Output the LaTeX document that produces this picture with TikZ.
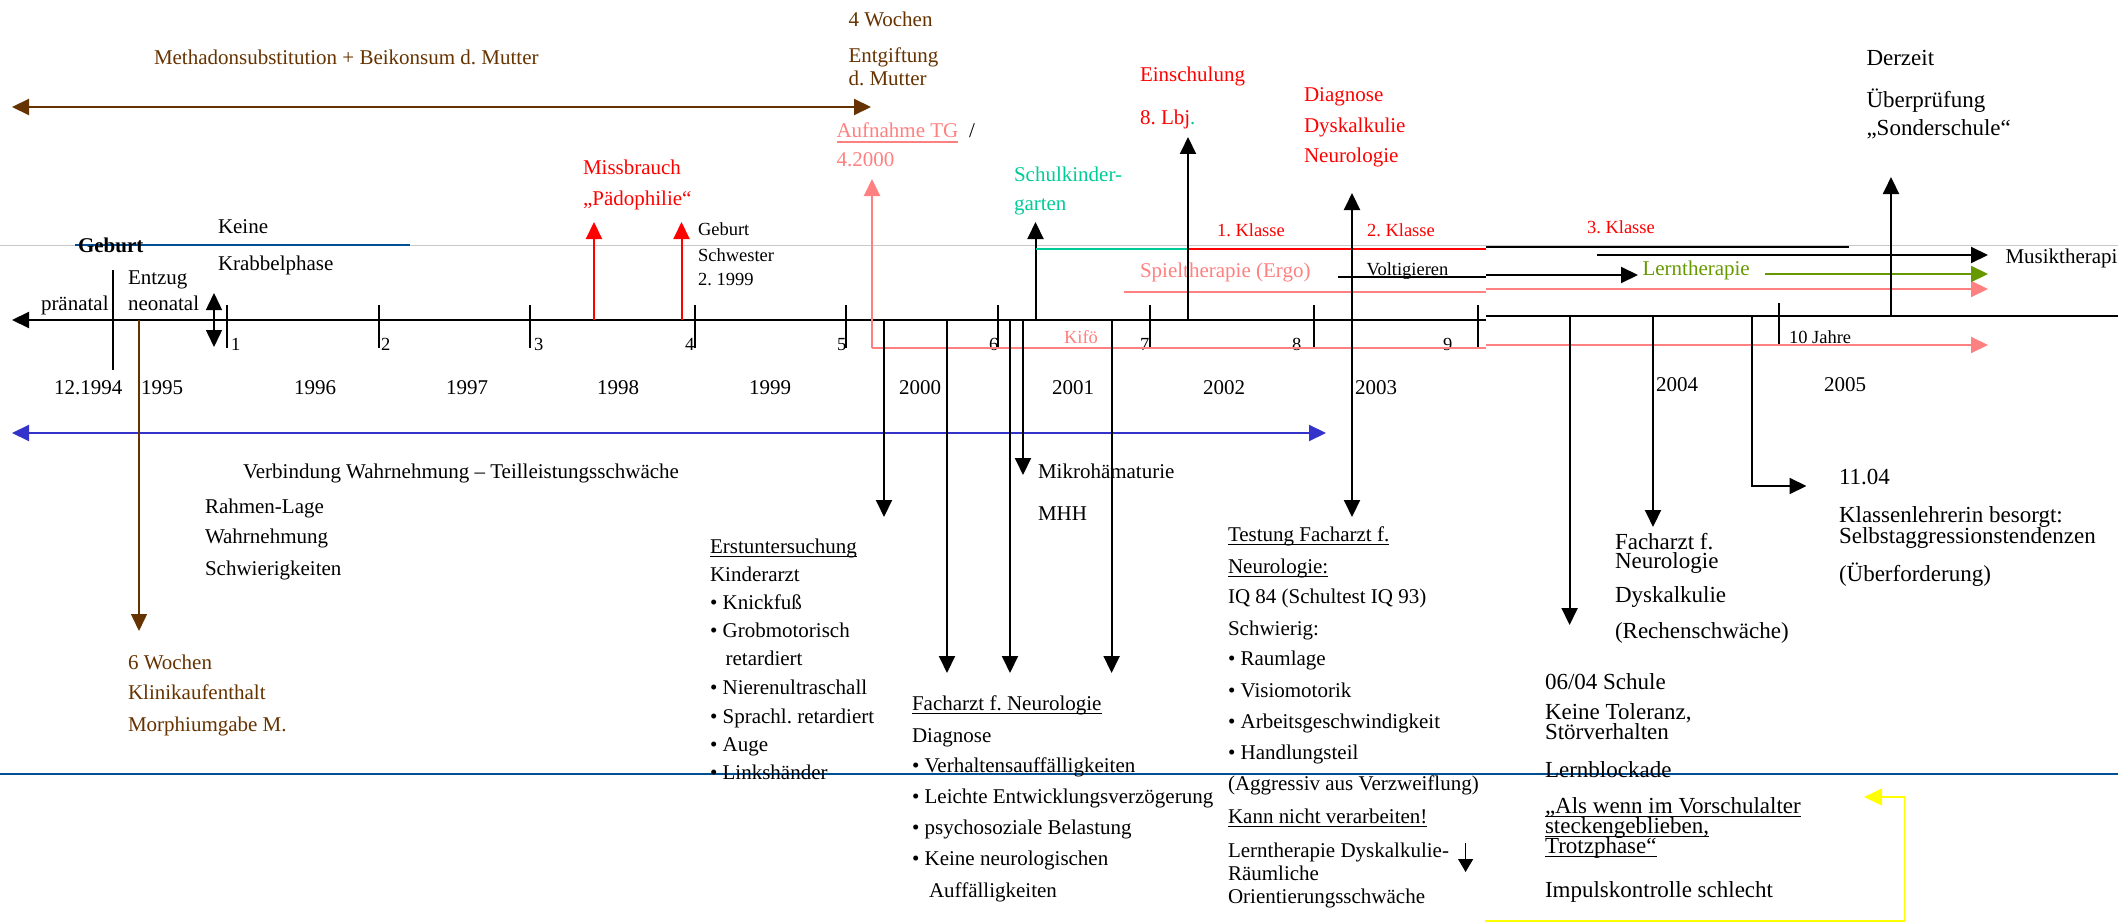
\documentclass[tikz,border=0pt]{standalone}
\usepackage{fontspec}
\setmainfont{Liberation Serif}
\usetikzlibrary{arrows.meta}
\definecolor{brownc}{RGB}{102,51,0}
\definecolor{redc}{RGB}{255,0,0}
\definecolor{pinkc}{RGB}{255,128,128}
\definecolor{tealc}{RGB}{0,204,153}
\definecolor{greenc}{RGB}{102,153,0}
\definecolor{bluec}{RGB}{51,51,204}
\definecolor{navyc}{RGB}{0,80,150}
\definecolor{grayc}{RGB}{200,200,200}
\definecolor{yellowc}{RGB}{255,255,0}
\tikzset{
 txt/.style={anchor=base west,inner sep=0pt,outer sep=0pt,font=\fontsize{21}{25}\selectfont},
 sm/.style={font=\fontsize{18.5}{22}\selectfont},
 lg/.style={font=\fontsize{23}{27}\selectfont},
 arr/.style={line width=2pt,-{Triangle[length=17pt,width=16pt]}},
 darr/.style={line width=2pt,{Triangle[length=17pt,width=16pt]}-{Triangle[length=17pt,width=16pt]}},
 tickl/.style={line width=1.5pt},
 ulin/.style={line width=1.3pt},
}
\newcommand\tx[5][]{\node[txt,#1] (#2) at (#3,#4) {#5};}
\newcommand\ux[5][]{\node[txt,#1] (#2) at (#3,#4) {#5};\draw[ulin,#1] ([yshift=-3.5pt]#2.base west) -- ([yshift=-3.5pt]#2.base east);}
\frenchspacing
\begin{document}
\begin{tikzpicture}[x=1pt,y=-1pt]
\useasboundingbox (0,0) rectangle (2118,923);
\fill[white] (0,0) rectangle (2118,923);

% guide lines
\draw[grayc,line width=1pt] (0,245) -- (2118,245);
\draw[navyc,line width=1.5pt] (75,245) -- (410,245);
\draw[navyc,line width=1.5pt] (0,774) -- (2118,774);

% mother's methadone period
\draw[darr,brownc] (12,107) -- (871,107);
\tx[brownc]{meth}{154}{65}{Methadonsubstitution + Beikonsum d. Mutter}
\tx[brownc]{w4a}{848.5}{27}{4 Wochen}
\tx[brownc]{w4b}{848.5}{63}{Entgiftung}
\tx[brownc]{w4c}{848.5}{86}{d. Mutter}

% blue double arrow
\draw[darr,bluec] (12,433) -- (1326,433);

% main axis
\draw[line width=2pt,{Triangle[length=17pt,width=16pt]}-] (12,320) -- (1486,320);
\draw[line width=2pt] (1486,316) -- (2118,316);
\foreach \x in {227,379,530,695,846,998,1150,1314,1478}
  \draw[tickl] (\x,305) -- (\x,348);
\draw[tickl] (1779,303) -- (1779,344);
\tx[sm]{n1}{231}{350}{1}
\tx[sm]{n2}{381}{350}{2}
\tx[sm]{n3}{534}{350}{3}
\tx[sm]{n4}{685}{350}{4}
\tx[sm]{n5}{837}{350}{5}
\tx[sm]{n6}{989}{350}{6}
\tx[sm]{n7}{1140}{350}{7}
\tx[sm]{n8}{1292}{350}{8}
\tx[sm]{n9}{1443}{350}{9}
\tx[sm]{n10}{1789}{343}{10 Jahre}

% years
\tx{y94}{54}{394}{12.1994}
\tx{y95}{141}{394}{1995}
\tx{y96}{294}{394}{1996}
\tx{y97}{446}{394}{1997}
\tx{y98}{597}{394}{1998}
\tx{y99}{749}{394}{1999}
\tx{y00}{899}{394}{2000}
\tx{y01}{1052}{394}{2001}
\tx{y02}{1203}{394}{2002}
\tx{y03}{1355}{394}{2003}
\tx{y04}{1656}{391}{2004}
\tx{y05}{1824}{391}{2005}

% birth area
\draw[line width=1.5pt] (113,270) -- (113,370);
\draw[darr,line width=1.5pt] (214,293) -- (214,347);
\tx[font=\fontsize{21}{25}\selectfont\bfseries]{geb}{78}{252}{Geburt}
\tx{keine}{218}{233}{Keine}
\tx{krab}{218}{270}{Krabbelphase}
\tx{entz}{128}{284}{Entzug}
\tx{neon}{128}{310}{neonatal}
\tx{pran}{41}{310}{pränatal}
\draw[arr,line width=1.5pt,brownc] (139,320) -- (139,631);
\tx[brownc]{kl1}{128}{669}{6 Wochen}
\tx[brownc]{kl2}{128}{699}{Klinikaufenthalt}
\tx[brownc]{kl3}{128}{731}{Morphiumgabe M.}

\tx{verb}{243}{478}{Verbindung Wahrnehmung – Teilleistungsschwäche}
\tx{rl1}{205}{513}{Rahmen-Lage}
\tx{rl2}{205}{543}{Wahrnehmung}
\tx{rl3}{205}{575}{Schwierigkeiten}

% abuse, sister
\draw[arr,redc] (594,320) -- (594,222);
\draw[arr,redc] (681.5,320) -- (681.5,222);
\tx[redc]{mis1}{583}{175}{Missbrauch}
\tx[redc]{mis2}{583}{205}{„Pädophilie“}
\tx[sm]{gs1}{698}{235}{Geburt}
\tx[sm]{gs2}{698}{261}{Schwester}
\tx[sm]{gs3}{698}{285}{2. 1999}

% Aufnahme TG / Kifoe
\draw[arr,pinkc] (872,348) -- (872,179);
\draw[line width=2pt,pinkc] (872,348) -- (1486,348);
\draw[arr,pinkc] (1486,345) -- (1988,345);
\node[txt,pinkc] (auf) at (836.5,138) {Aufnahme TG};
\draw[pinkc,line width=2pt] ([yshift=-4pt]auf.base west) -- ([yshift=-4pt]auf.base east);
\tx{slash}{969}{138}{/}
\tx[pinkc]{auf2}{836.5}{167}{4.2000}
\tx[sm,pinkc]{kifo}{1064}{343}{Kifö}

% Schulkindergarten, classes
\draw[arr] (1035.5,320) -- (1035.5,222);
\draw[line width=2pt,tealc] (1035.5,249) -- (1188,249);
\draw[line width=2pt,redc] (1188,249) -- (1486,249);
\draw[line width=2pt] (1486,247) -- (1849,247);
\tx[tealc]{sk1}{1014}{182}{Schulkinder-}
\tx[tealc]{sk2}{1014}{210}{garten}
\tx[sm,redc]{k1}{1217}{236}{1. Klasse}
\tx[sm,redc]{k2}{1367}{236}{2. Klasse}
\tx[sm,redc]{k3}{1587}{233}{3. Klasse}

% therapies
\draw[line width=2pt,pinkc] (1124,292) -- (1486,292);
\draw[arr,pinkc] (1486,289) -- (1988,289);
\tx[pinkc]{spiel}{1140}{277}{Spieltherapie (Ergo)}
\draw[line width=2pt] (1338,277) -- (1486,277);
\draw[arr] (1486,275) -- (1638,275);
\tx[sm]{volt}{1366.5}{275}{Voltigieren}
\draw[arr,greenc] (1765,274) -- (1988,274);
\tx[greenc]{lern}{1642.5}{275}{Lerntherapie}
\draw[arr] (1597,255) -- (1988,255);
\tx{musik}{2005.5}{263}{Musiktherapie}

% Einschulung, Diagnose, Derzeit
\draw[arr] (1188,320) -- (1188,137);
\tx[redc]{ein1}{1140}{82}{Einschulung}
\tx[redc]{ein2}{1140}{125}{8. Lbj{\color{tealc}.}}
\draw[darr] (1352,193) -- (1352,517);
\tx[redc]{dg1}{1304}{102}{Diagnose}
\tx[redc]{dg2}{1304}{133}{Dyskalkulie}
\tx[redc]{dg3}{1304}{163}{Neurologie}
\draw[arr] (1891,316) -- (1891,177);
\tx[lg]{dz1}{1866.5}{66}{Derzeit}
\tx[lg]{dz2}{1866.5}{108}{Überprüfung}
\tx[lg]{dz3}{1866.5}{136}{„Sonderschule“}

% down arrows
\draw[arr] (884,320) -- (884,517);
\draw[arr] (947,320) -- (947,673);
\draw[arr] (1010,320) -- (1010,673);
\draw[arr] (1023,320) -- (1023,475);
\draw[arr] (1111.6,320) -- (1111.6,673);
\draw[arr] (1569.6,316) -- (1569.6,625);
\draw[arr] (1653,316) -- (1653,527);
\draw[arr] (1751.6,316) -- (1751.6,486) -- (1806.5,486);

\tx{mik1}{1038}{478}{Mikrohämaturie}
\tx{mik2}{1038}{520}{MHH}

\ux{eu1}{710}{553}{Erstuntersuchung}
\tx{eu2}{710}{581}{Kinderarzt}
\tx{eu3}{710}{609}{• Knickfuß}
\tx{eu4}{710}{637}{• Grobmotorisch}
\tx{eu5}{725.6}{665}{retardiert}
\tx{eu6}{710}{694}{• Nierenultraschall}
\tx{eu7}{710}{723}{• Sprachl. retardiert}
\tx{eu8}{710}{751}{• Auge}
\tx{eu9}{710}{779}{• Linkshänder}

\ux{fa1}{912}{710}{Facharzt f. Neurologie}
\tx{fa2}{912}{742}{Diagnose}
\tx{fa3}{912}{772}{• Verhaltensauffälligkeiten}
\tx{fa4}{912}{803}{• Leichte Entwicklungsverzögerung}
\tx{fa5}{912}{834}{• psychosoziale Belastung}
\tx{fa6}{912}{865}{• Keine neurologischen}
\tx{fa7}{929}{897}{Auffälligkeiten}

\ux{te1}{1228}{541}{Testung Facharzt f.}
\ux{te2}{1228}{573}{Neurologie:}
\tx{te3}{1228}{603}{IQ 84 (Schultest IQ 93)}
\tx{te4}{1228}{635}{Schwierig:}
\tx{te5}{1228}{665}{• Raumlage}
\tx{te6}{1228}{697}{• Visiomotorik}
\tx{te7}{1228}{728}{• Arbeitsgeschwindigkeit}
\tx{te8}{1228}{759}{• Handlungsteil}
\tx{te9}{1228}{790}{(Aggressiv aus Verzweiflung)}
\ux{te10}{1228}{823}{Kann nicht verarbeiten!}
\tx{te11}{1228}{857}{Lerntherapie Dyskalkulie-}
\tx{te12}{1228}{880}{Räumliche}
\tx{te13}{1228}{903}{Orientierungsschwäche}
\draw[line width=1.3pt,-{Triangle[length=13pt,width=15pt]}] (1465.6,843) -- (1465.6,872);

\tx[lg]{sc1}{1545}{689}{06/04 Schule}
\tx[lg]{sc2}{1545}{719}{Keine Toleranz,}
\tx[lg]{sc3}{1545}{739}{Störverhalten}
\tx[lg]{sc4}{1545}{777}{Lernblockade}
\ux[lg]{sc5}{1545}{813}{„Als wenn im Vorschulalter}
\ux[lg]{sc6}{1545}{833}{steckengeblieben,}
\ux[lg]{sc7}{1545}{853}{Trotzphase“}
\tx[lg]{sc8}{1545}{897}{Impulskontrolle schlecht}

\tx[lg]{fn1}{1615}{549}{Facharzt f.}
\tx[lg]{fn2}{1615}{568}{Neurologie}
\tx[lg]{fn3}{1615}{602}{Dyskalkulie}
\tx[lg]{fn4}{1615}{638}{(Rechenschwäche)}

\tx[lg]{kl11}{1839}{484}{11.04}
\tx[lg]{kl12}{1839}{522}{Klassenlehrerin besorgt:}
\tx[lg]{kl13}{1839}{543}{Selbstaggressionstendenzen}
\tx[lg]{kl14}{1839}{581}{(Überforderung)}

% yellow link
\draw[yellowc,line width=1.5pt,-{Triangle[length=18pt,width=17pt]}] (1485,921) -- (1904.6,921) -- (1904.6,797) -- (1864,797);
\end{tikzpicture}
\end{document}
